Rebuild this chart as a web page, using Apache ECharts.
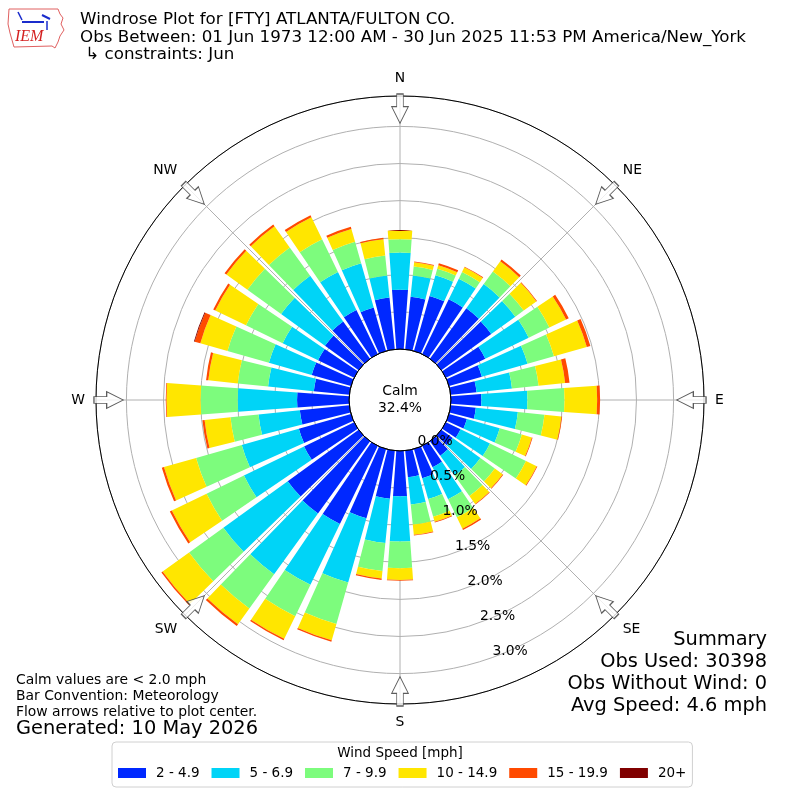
<!DOCTYPE html>
<html><head><meta charset="utf-8">
<script src="https://cdn.jsdelivr.net/npm/echarts@6/dist/echarts.min.js"></script>
<style>html,body{margin:0;padding:0;background:#fff}#c{width:800px;height:800px}</style>
</head><body><div id="c"></div>
<script>
// ---- data ----
const directions = ['0','10','20','30','40','50','60','70','80','90','100','110','120','130','140','150','160','170','180','190','200','210','220','230','240','250','260','270','280','290','300','310','320','330','340','350'];
const speedBins = ['2 - 4.9','5 - 6.9','7 - 9.9','10 - 14.9','15 - 19.9','20+'];
const binColors = ['#0028ff','#00d4f7','#7dfc7d','#ffe600','#ff4a00','#800000'];
const spd2to5   = [0.80,0.71,0.77,0.82,0.84,0.83,0.59,0.46,0.35,0.41,0.34,0.25,0.22,0.19,0.24,0.32,0.41,0.36,0.61,0.65,0.97,1.17,1.20,1.18,0.75,0.73,0.67,0.70,0.48,0.55,0.54,0.56,0.62,0.66,0.61,0.70];
const spd5to7   = [0.50,0.29,0.29,0.31,0.40,0.40,0.65,0.64,0.48,0.62,0.57,0.46,0.44,0.46,0.33,0.48,0.29,0.37,0.61,0.60,0.90,0.91,1.01,1.07,0.90,0.80,0.56,0.80,0.62,0.60,0.53,0.73,0.76,0.57,0.62,0.30];
const spd7to10  = [0.18,0.12,0.09,0.10,0.21,0.14,0.31,0.37,0.36,0.50,0.36,0.31,0.54,0.24,0.34,0.27,0.25,0.27,0.36,0.38,0.58,0.47,0.57,0.57,0.56,0.64,0.38,0.50,0.41,0.58,0.55,0.56,0.47,0.49,0.30,0.27];
const spd10to15 = [0.12,0.06,0.05,0.07,0.17,0.21,0.25,0.46,0.36,0.44,0.23,0.14,0.16,0.13,0.13,0.17,0.07,0.14,0.16,0.10,0.23,0.34,0.26,0.44,0.52,0.45,0.35,0.46,0.40,0.38,0.46,0.35,0.35,0.33,0.18,0.22];
const spd15to20 = [0.00,0.01,0.03,0.01,0.03,0.01,0.04,0.05,0.06,0.04,0.01,0.01,0.01,0.01,0.01,0.02,0.01,0.01,0.01,0.02,0.02,0.02,0.03,0.02,0.03,0.03,0.03,0.01,0.03,0.08,0.03,0.03,0.03,0.03,0.03,0.02];
const spd20up   = [0,0,0,0,0,0,0,0,0,0,0,0,0,0,0,0,0,0,0,0,0,0,0,0,0,0,0,0,0,0.01,0,0,0,0,0,0];
const compassLabels = ['N','NE','E','SE','S','SW','W','NW'];
const compassAngles = [0,45,90,135,180,225,270,315];
const ringStep = 0.5;
const ringLabelMax = 3.0;
const radiusMax = 3.41;
const calmPct = '32.4%';
const titleLines = ['Windrose Plot for [FTY] ATLANTA/FULTON CO.','Obs Between: 01 Jun 1973 12:00 AM - 30 Jun 2025 11:53 PM America/New_York',' \u21b3 constraints: Jun'];
const summaryLines = ['Summary','Obs Used: 30398','Obs Without Wind: 0','Avg Speed: 4.6 mph'];
const noteLines = ['Calm values are < 2.0 mph','Bar Convention: Meteorology','Flow arrows relative to plot center.'];
const generatedText = 'Generated: 10 May 2026';
const legendTitle = 'Wind Speed [mph]';

const seriesValues = [spd2to5, spd5to7, spd7to10, spd10to15, spd15to20, spd20up];
const FONT = 'DejaVu Sans';
const CX = 400, CY = 400, R0 = 51, R1 = 304;
const arrowR = 3.24;

const chart = echarts.init(document.getElementById('c'), null, {renderer: 'canvas'});

const barSeries = speedBins.map((name, i) => ({
  name, type: 'bar', coordinateSystem: 'polar', polarIndex: 0, stack: 'wind',
  data: seriesValues[i], barCategoryGap: '17%',
  itemStyle: {color: binColors[i]}, z: 3, silent: true
}));

const arrowPath = 'path://M-3.3,0 L3.3,0 L3.3,12.7 L8.3,12.7 L0,29.3 L-8.3,12.7 L-3.3,12.7 Z';

const graphic = [];
// IEM logo (decorative)
graphic.push({type:'polyline', shape:{points:[[9,9],[58,9],[60,14],[63,18],[61,24],[64,30],[60,36],[58,42],[55,48],[52,46],[14,47],[12,40],[10,33],[8,24],[9,9]]}, style:{stroke:'#e06060', fill:'none', lineWidth:1}, z:10});
graphic.push({type:'line', shape:{x1:22,y1:22,x2:44,y2:22}, style:{stroke:'#1a2ccc', lineWidth:2}, z:10});
graphic.push({type:'line', shape:{x1:42,y1:15,x2:50,y2:19}, style:{stroke:'#1a2ccc', lineWidth:2}, z:10});
graphic.push({type:'line', shape:{x1:18,y1:12,x2:22,y2:20}, style:{stroke:'#1a2ccc', lineWidth:1.5}, z:10});
graphic.push({type:'line', shape:{x1:47,y1:21,x2:47,y2:30}, style:{stroke:'#1a2ccc', lineWidth:1.5}, z:10});
graphic.push({type:'text', left:15, top:29, style:{text:'IEM', font:'italic 16px "Liberation Serif"', fill:'#d42020'}, z:10});
// title lines
titleLines.forEach((t, i) => graphic.push({type:'text', x:80, y:20 + i*17.5, style:{text:t, font:'16.7px "' + FONT + '"', fill:'#000', textAlign:'left', textVerticalAlign:'middle'}, z:10}));
// calm
graphic.push({type:'circle', shape:{cx:CX, cy:CY, r:R0}, style:{fill:'none', stroke:'#000', lineWidth:1}, z:100});
graphic.push({type:'text', x:CX, y:CY - 9, style:{text:'Calm', font:'13.9px "' + FONT + '"', fill:'#000', textAlign:'center', textVerticalAlign:'middle'}, z:100});
graphic.push({type:'text', x:CX, y:CY + 8, style:{text:calmPct, font:'13.9px "' + FONT + '"', fill:'#000', textAlign:'center', textVerticalAlign:'middle'}, z:100});
// summary
summaryLines.forEach((t, i) => graphic.push({type:'text', x:767, y:640 + i*22, style:{text:t, font:'19.4px "' + FONT + '"', fill:'#000', textAlign:'right', textVerticalAlign:'middle'}, z:10}));
// notes
noteLines.forEach((t, i) => graphic.push({type:'text', x:16, y:680 + i*16, style:{text:t, font:'13.9px "' + FONT + '"', fill:'#000', textAlign:'left', textVerticalAlign:'middle'}, z:10}));
graphic.push({type:'text', x:16, y:729, style:{text:generatedText, font:'19.4px "' + FONT + '"', fill:'#000', textAlign:'left', textVerticalAlign:'middle'}, z:10});
graphic.push({type:'text', x:400, y:753, style:{text:legendTitle, font:'13.5px "' + FONT + '"', fill:'#000', textAlign:'center', textVerticalAlign:'middle'}, z:10});

const option = {
  backgroundColor: '#fff',
  animation: false,
  textStyle: {fontFamily: FONT},
  polar: [
    {center: [CX, CY], radius: [R0, R1]},
    {center: [CX, CY], radius: [R0, R1]},
    {center: [CX, CY], radius: [R0, R1]}
  ],
  angleAxis: [
    {polarIndex: 0, type: 'category', data: directions, startAngle: 95, clockwise: true, boundaryGap: true, show: false},
    {polarIndex: 1, type: 'value', min: 0, max: 360, interval: 45, startAngle: 90, clockwise: true,
     axisLine: {show: true, lineStyle: {color: '#000', width: 1}},
     axisTick: {show: false},
     axisLabel: {show: true, margin: 11, color: '#000', fontSize: 13.9, fontFamily: FONT,
       align: 'center', verticalAlign: 'middle',
       formatter: v => v >= 360 ? '' : compassLabels[Math.round(v / 45) % 8]},
     splitLine: {show: true, lineStyle: {color: '#b0b0b0', width: 1}}},
    {polarIndex: 2, type: 'value', min: 0, max: 360, startAngle: -70.3, show: false}
  ],
  radiusAxis: [
    {polarIndex: 0, type: 'value', min: 0, max: radiusMax, show: false},
    {polarIndex: 1, type: 'value', min: 0, max: radiusMax, interval: ringStep,
     axisLine: {show: false}, axisTick: {show: false}, axisLabel: {show: false},
     splitLine: {show: true, lineStyle: {color: '#b0b0b0', width: 1}}},
    {polarIndex: 2, type: 'value', min: 0, max: radiusMax, interval: ringStep, z: 50,
     axisLine: {show: false}, axisTick: {show: false}, splitLine: {show: false},
     axisLabel: {show: true, rotate: 0, margin: 19, align: 'center', verticalAlign: 'middle',
       color: '#000', fontSize: 13.9, fontFamily: FONT,
       formatter: v => v > ringLabelMax + 0.01 ? '' : v.toFixed(1) + '%'}}
  ],
  legend: {
    data: speedBins, left: 112, top: 742, orient: 'horizontal',
    itemWidth: 28, itemHeight: 10, itemGap: 12, icon: 'rect',
    padding: [24, 6, 7, 6], borderColor: '#d0d0d0', borderWidth: 1, borderRadius: 4,
    textStyle: {color: '#000', fontSize: 13.5, fontFamily: FONT, padding: [0, 0, 0, 5]}, selectedMode: false
  },
  graphic: graphic,
  series: barSeries.concat([{
    type: 'scatter', coordinateSystem: 'polar', polarIndex: 1, silent: true, z: 5,
    symbol: arrowPath, symbolSize: [16.6, 29.3], symbolKeepAspect: false,
    symbolRotate: (v) => -v[1],
    itemStyle: {color: '#fff', borderColor: '#333', borderWidth: 1},
    data: compassAngles.map(a => [arrowR, a])
  }])
};
chart.setOption(option);
</script></body></html>
